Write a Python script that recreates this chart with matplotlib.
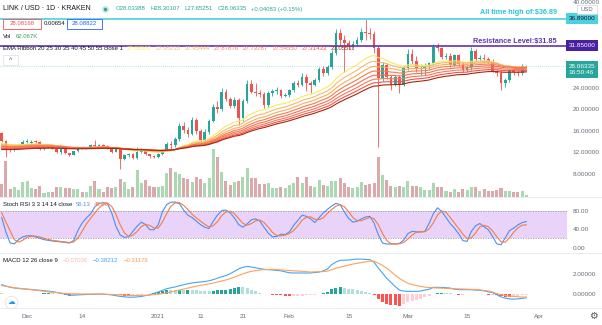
import numpy as np
import pandas as pd
import matplotlib
matplotlib.use("Agg")
import matplotlib.pyplot as plt
import matplotlib.dates as mdates
from matplotlib.patches import Rectangle

plt.rcParams['font.family'] = ['Liberation Sans', 'DejaVu Sans']

W, H = 602, 325

# LINK / USD daily candles (Kraken)
dates = pd.date_range("2020-11-25", "2021-03-29", freq="D")

opens = [15.6, 14.1, 12.5, 12.4, 13.1, 13.3, 13.9, 13.8, 14.0, 13.98,
         12.6, 13.2, 13.4, 12.7, 12.1, 12.6, 11.85, 11.55, 12.2, 12.9,
         12.8, 12.85, 13.4, 13.2, 13.3, 13.2, 12.7, 12.1, 12.6, 10.85,
         11.5, 11.7, 10.9, 12.1, 12.6, 11.7, 11.3, 11.1, 11.8, 12.3,
         13.6, 13.3, 14.5, 17.0, 16.2, 15.4, 18.0, 16.0, 14.3, 15.9,
         17.9, 20.5, 20.0, 23.3, 21.9, 20.6, 21.8, 18.4, 21.5, 24.7,
         23.3, 23.0, 22.8, 20.8, 23.0, 23.5, 23.6, 22.5, 22.7, 23.6,
         25.0, 24.5, 26.1, 25.0, 24.6, 25.5, 27.5, 26.7, 27.9, 30.5,
         34.2, 32.9, 32.3, 31.9, 32.2, 32.9, 34.5, 34.3, 34.1, 31.4,
         25.8, 28.2, 26.1, 24.6, 26.1, 24.6, 27.7, 30.4, 29.0, 27.5,
         27.7, 28.0, 28.6, 31.7, 31.4, 29.7, 30.0, 28.3, 30.1, 28.4,
         27.35, 27.85, 30.9, 29.3, 29.5, 29.3, 28.9, 27.2, 26.8, 24.9,
         25.5, 27.3, 26.9, 26.7, 28.03388]
highs = [15.9, 14.4, 13.3, 13.3, 13.5, 14.3, 14.5, 14.3, 14.4, 14.1,
         13.3, 13.6, 13.5, 12.9, 12.7, 12.7, 11.95, 12.3, 13.0, 13.1,
         13.0, 13.6, 14.4, 13.5, 13.5, 13.4, 12.9, 12.7, 12.8, 11.7,
         11.9, 11.9, 12.97, 12.9, 12.7, 11.8, 11.5, 11.9, 12.5, 14.0,
         14.2, 14.8, 17.5, 17.6, 16.8, 18.6, 18.5, 16.3, 16.3, 18.2,
         21.0, 21.5, 24.0, 23.8, 22.3, 22.4, 22.2, 21.9, 25.4, 25.5,
         25.0, 23.6, 23.2, 23.4, 23.9, 24.2, 23.9, 23.0, 23.9, 25.3,
         25.5, 26.8, 26.6, 25.3, 25.8, 27.9, 28.0, 28.3, 31.0, 35.0,
         35.0, 33.8, 32.9, 32.7, 33.4, 35.2, 36.89, 35.2, 34.6, 31.8,
         28.8, 28.6, 26.5, 26.5, 26.4, 28.0, 31.2, 31.3, 30.0, 28.5,
         28.7, 28.9, 32.2, 32.4, 31.6, 30.6, 30.5, 30.4, 30.4, 28.9,
         28.1, 31.6, 31.2, 30.2, 30.3, 29.7, 29.3, 27.5, 27.1, 25.8,
         27.6, 27.8, 27.4, 28.4, 28.30107]
lows = [13.9, 11.2, 12.1, 12.2, 12.9, 13.2, 13.7, 13.5, 13.7, 12.4,
        12.4, 12.9, 12.6, 11.9, 11.7, 11.7, 11.3, 11.5, 12.1, 12.6,
        12.6, 12.7, 13.0, 13.0, 13.0, 12.6, 11.9, 12.0, 9.0, 10.6,
        11.2, 10.7, 10.8, 11.9, 11.5, 11.0, 10.9, 11.0, 11.6, 12.2,
        12.6, 13.0, 14.2, 15.6, 14.8, 15.2, 15.5, 13.3, 13.9, 15.5,
        17.6, 19.3, 19.8, 21.5, 20.2, 20.3, 17.2, 17.9, 21.2, 23.0,
        22.6, 22.4, 20.2, 20.5, 22.6, 22.9, 22.2, 22.3, 22.4, 23.3,
        24.1, 24.3, 23.4, 23.0, 24.3, 25.2, 26.3, 26.5, 27.6, 30.2,
        32.0, 27.0, 31.2, 31.5, 31.8, 32.6, 33.0, 33.2, 30.5, 13.0,
        25.3, 25.6, 23.6, 24.3, 23.0, 24.3, 27.4, 28.4, 27.0, 26.4,
        26.5, 27.5, 28.3, 30.9, 29.3, 29.4, 27.9, 28.0, 28.1, 26.9,
        27.0, 27.4, 29.0, 29.0, 28.8, 28.6, 26.9, 26.3, 23.6, 24.2,
        25.1, 26.5, 26.2, 26.4, 27.65251]
closes = [14.1, 12.5, 12.4, 13.1, 13.3, 13.9, 14.1, 14.0, 13.98, 12.6,
          13.2, 13.4, 12.7, 12.1, 12.6, 11.85, 11.55, 12.2, 12.9, 12.8,
          12.85, 13.4, 13.2, 13.3, 13.2, 12.7, 12.1, 12.6, 10.85, 11.5,
          11.7, 10.9, 12.1, 12.6, 11.7, 11.3, 11.1, 11.8, 12.3, 13.6,
          13.3, 14.5, 17.0, 16.2, 15.4, 18.0, 16.0, 14.3, 15.9, 17.9,
          20.5, 20.0, 23.3, 21.9, 20.6, 21.8, 18.4, 21.5, 24.7, 23.3,
          23.0, 22.8, 20.8, 23.0, 23.5, 23.6, 22.5, 22.7, 23.6, 25.0,
          24.5, 26.1, 25.0, 24.6, 25.5, 27.5, 26.7, 27.9, 30.5, 34.2,
          32.9, 32.3, 31.9, 32.2, 32.9, 34.5, 34.3, 34.1, 31.4, 25.8,
          28.2, 26.1, 24.6, 26.1, 24.6, 27.7, 30.4, 29.0, 27.5, 27.7,
          28.0, 28.6, 31.7, 31.4, 29.7, 30.0, 28.3, 30.1, 28.4, 27.35,
          27.85, 30.9, 29.3, 29.5, 29.3, 28.9, 27.2, 26.8, 24.9, 25.5,
          27.3, 26.9, 26.7, 28.03, 28.06335]
# volume in thousands
volume = [520, 1476, 300, 410, 275, 586, 644, 369, 300, 439,
          164, 205, 205, 381, 410, 369, 369, 300, 316, 205,
          205, 451, 644, 300, 205, 410, 369, 410, 726, 586,
          316, 410, 1095, 545, 685, 439, 410, 410, 451, 955,
          1160, 1025, 943, 750, 709, 615, 820, 738, 574, 750,
          1980, 1611, 1025, 644, 480, 615, 656, 820, 1160, 779,
          750, 504, 533, 574, 340, 340, 381, 340, 480, 574,
          791, 545, 791, 451, 398, 685, 480, 451, 644, 644,
          750, 545, 381, 340, 381, 615, 480, 521, 545, 1611,
          902, 697, 451, 410, 451, 410, 644, 451, 451, 410,
          275, 275, 545, 381, 381, 246, 205, 316, 205, 316,
          275, 410, 381, 246, 300, 234, 246, 275, 340, 234,
          234, 176, 176, 246, 62.067]

stoch_k = [65, 33.5, 9.7, 8, 17, 23, 25.5, 25.5, 23, 20,
           17, 15.5, 14, 13.4, 12, 11, 9.7, 15, 36.5, 53,
           64, 72.5, 88, 96, 97, 95, 75, 46, 27, 22,
           23, 35, 46, 55, 49.5, 38.6, 38.6, 49.5, 78, 93,
           98, 98.6, 95, 81, 70, 65, 57, 49.5, 44, 41,
           57, 70, 80, 81, 75, 64, 49.5, 44, 51, 60,
           62, 57, 44, 31, 23, 24, 29, 28, 34, 48,
           59, 70, 67.5, 62, 54, 64.6, 74.7, 82.7, 90, 95.7,
           92.8, 76.8, 63, 55, 57, 62, 66, 67.5, 53, 28,
           9.7, 7.6, 7.6, 7.6, 9, 16, 30, 35, 34, 33.5,
           35, 52, 73, 86, 78, 65, 52, 42, 30, 14.8,
           13.4, 35, 47, 52, 45, 38.6, 24, 8, 6, 20.6,
           36.5, 42, 49, 54, 56.13]
stoch_d = [75, 55, 36, 17, 11.5, 16, 22, 24.7, 24.7, 22.8,
           20, 17.5, 15.5, 14.3, 13.1, 12.1, 10.9, 11.9, 20.4, 34.8,
           51, 63, 74.8, 85.5, 93.7, 96, 89, 72, 49.3, 31.7,
           24, 26.7, 34.7, 45.3, 50.2, 47.7, 42.2, 42.2, 55.4, 73.5,
           89.7, 96.5, 97.2, 91.5, 82, 72, 64, 57.2, 50.2, 44.8,
           47.3, 56, 69, 77, 78.7, 73.3, 62.8, 52.5, 48.2, 51.7,
           57.7, 59.7, 54.3, 44, 32.7, 26, 25.3, 27, 30.3, 36.7,
           47, 59, 65.5, 66.5, 61.2, 60.2, 64.4, 74, 82.5, 89.5,
           92.8, 88.4, 77.5, 65, 58.3, 58, 61.7, 65.2, 62.2, 49.5,
           30.2, 15.1, 8.3, 7.6, 8.1, 10.9, 18.3, 27, 33, 34.2,
           34.2, 40.2, 53.3, 70.3, 79, 76.3, 65, 53, 41.3, 28.9,
           19.4, 21, 31.8, 44.7, 48, 45.2, 35.9, 23.5, 12.7, 11.5,
           21, 33, 42.5, 48.3, 49.08]

macd_line = [0.95, 0.81, 0.68, 0.61, 0.56, 0.52, 0.49, 0.46, 0.42, 0.37,
             0.34, 0.29, 0.24, 0.16, 0.08, -0.01, -0.13, -0.12, -0.09, -0.07,
             -0.05, -0.04, -0.02, 0.00, -0.02, -0.05, -0.09, -0.17, -0.24, -0.28,
             -0.33, -0.32, -0.30, -0.25, -0.16, -0.07, 0.07, 0.21, 0.37, 0.54,
             0.63, 0.72, 0.83, 0.94, 1.04, 1.12, 1.18, 1.22, 1.26, 1.34,
             1.46, 1.60, 1.75, 1.87, 2.06, 2.30, 2.55, 2.71, 2.80, 2.74,
             2.66, 2.58, 2.51, 2.47, 2.44, 2.40, 2.35, 2.25, 2.15, 2.13,
             2.13, 2.13, 2.13, 2.14, 2.18, 2.22, 2.35, 2.54, 2.98, 3.25,
             3.42, 3.43, 3.45, 3.50, 3.54, 3.54, 3.51, 3.49, 3.22, 2.64,
             2.12, 1.59, 1.19, 0.75, 0.39, 0.30, 0.27, 0.27, 0.27, 0.30,
             0.40, 0.47, 0.68, 0.68, 0.67, 0.64, 0.60, 0.49, 0.44, 0.44,
             0.44, 0.43, 0.40, 0.37, 0.32, 0.22, 0.13, -0.07, -0.29, -0.42,
             -0.50, -0.52, -0.50, -0.44, -0.38212]
signal_line = [0.85, 0.78, 0.71, 0.64, 0.59, 0.54, 0.49, 0.43, 0.38, 0.33,
               0.28, 0.22, 0.18, 0.14, 0.09, 0.05, 0.03, 0.02, 0.01, 0.00,
               0.00, 0.00, 0.00, 0.00, -0.01, -0.03, -0.05, -0.06, -0.09, -0.11,
               -0.14, -0.16, -0.15, -0.14, -0.13, -0.11, -0.07, -0.02, 0.05, 0.12,
               0.21, 0.30, 0.39, 0.50, 0.60, 0.70, 0.79, 0.87, 0.95, 1.03,
               1.11, 1.21, 1.32, 1.43, 1.56, 1.71, 1.88, 2.04, 2.19, 2.30,
               2.37, 2.43, 2.47, 2.48, 2.50, 2.48, 2.45, 2.41, 2.38, 2.35,
               2.33, 2.30, 2.27, 2.23, 2.25, 2.27, 2.28, 2.32, 2.47, 2.61,
               2.73, 2.83, 2.94, 3.04, 3.11, 3.19, 3.26, 3.34, 3.32, 3.13,
               2.89, 2.62, 2.27, 1.91, 1.58, 1.33, 1.08, 0.96, 0.86, 0.78,
               0.70, 0.66, 0.63, 0.61, 0.59, 0.57, 0.54, 0.53, 0.52, 0.51,
               0.49, 0.47, 0.45, 0.42, 0.35, 0.31, 0.20, 0.05, -0.07, -0.15,
               -0.22, -0.25, -0.28, -0.30, -0.31176]

ema_lengths = [20, 25, 30, 35, 40, 45, 50, 55]
ema_start = [13.7, 13.5, 13.3, 13.15, 13.0, 12.85, 12.7, 12.55]
ema_colors = ["#f5eb5d", "#f5b771", "#f5b056", "#f57b4e",
              "#f56d58", "#f57d51", "#f55151", "#aa2707"]
ema_legend = ["27.86562", "27.95235", "27.95444", "27.87876",
              "27.73787", "27.54550", "27.31433", "27.05511"]

ath = 36.89
resistance = 31.85
last_price = 28.06335
price_ticks = [8, 12, 16, 20, 24, 40]

tick_dates = pd.to_datetime(["2020-12-01", "2020-12-14", "2021-01-01", "2021-01-11",
                             "2021-01-21", "2021-02-01", "2021-02-15", "2021-03-01",
                             "2021-03-15", "2021-04-01"])
tick_labels = ["Dec", "14", "2021", "11", "21", "Feb", "15", "Mar", "15", "Apr"]

UP, DOWN = "#26a69a", "#ef5350"
GREY = "#6a6d78"
FS = 4.3

o = np.array(opens); h = np.array(highs); l = np.array(lows); c = np.array(closes)
xn = mdates.date2num(dates.to_pydatetime())
up = c >= o

fig = plt.figure(figsize=(W / 100, H / 100), dpi=100)
fig.patch.set_facecolor("white")

right = 567 / W
xlim = (xn[0] - 0.4, xn[0] + 133.6)

def rect(top, bottom):
    return [0, 1 - bottom / H, right, (bottom - top) / H]

# volume behind the candles
axv = fig.add_axes(rect(0, 196.5))
axv.bar(xn, volume, width=0.72, color=np.where(up, "#a9d8b1", "#dba9ab"), lw=0)
axv.set_xlim(*xlim)
axv.set_ylim(0, 1980 * 196.5 / 48)
axv.set_axis_off()

ax = fig.add_axes(rect(0, 196.5))
ax.patch.set_alpha(0)
ax.set_xlim(*xlim)
ax.set_ylim(3.81, 40.37)
col = np.where(up, UP, DOWN)
ax.vlines(xn, l, h, colors=col, lw=0.6, zorder=2)
ax.bar(xn, np.maximum(np.abs(c - o), 0.07), bottom=np.minimum(o, c), width=0.64,
       color=col, lw=0, zorder=2)

# EMA ribbon
for n, s, clr in zip(ema_lengths, ema_start, ema_colors):
    a = 2 / (n + 1)
    vals = [s]
    for v in c[1:]:
        vals.append(a * v + (1 - a) * vals[-1])
    ax.plot(xn, vals, color=clr, lw=0.8, zorder=3)

ax.axhline(ath, color="#4dd0e1", lw=1.2, zorder=4)
ax.axhline(resistance, color="#5e35b1", lw=1.2, zorder=4)
ax.axhline(last_price, color="#26a69a", lw=0.5, ls=(0, (1, 2)), alpha=0.6, zorder=1)

ax.yaxis.tick_right()
ax.set_yticks(price_ticks)
ax.set_yticklabels(["%.5f" % t for t in price_ticks])
ax.tick_params(axis="y", length=0, pad=4.3, labelsize=4.6, labelcolor=GREY)
ax.set_xticks([])
for sp in ax.spines.values():
    sp.set_visible(False)

tr = ax.get_yaxis_transform()
ax.text(1.003, ath, "36.89000", transform=tr, ha="left", va="center", fontsize=4.6,
        color="#131722", clip_on=False, zorder=10,
        bbox=dict(boxstyle="square,pad=0.45", fc="#4dd0e1", ec="none"))
ax.text(1.003, resistance, "31.85000", transform=tr, ha="left", va="center", fontsize=4.6,
        color="white", clip_on=False, zorder=10,
        bbox=dict(boxstyle="square,pad=0.45", fc="#4a1fa0", ec="none"))
ax.text(1.003, last_price - 0.6, "28.06335\n16:50:46", transform=tr, ha="left", va="center",
        fontsize=4.6, color="white", clip_on=False, zorder=10, linespacing=1.25,
        bbox=dict(boxstyle="square,pad=0.45", fc="#26a69a", ec="none"))

# Stoch RSI
axs = fig.add_axes(rect(197, 253))
axs.set_xlim(*xlim)
axs.set_ylim(-11.9, 109.4)
axs.axhspan(20, 80, color="#e9d3f9", lw=0)
for lvl in (20, 80):
    axs.axhline(lvl, color="#9598a1", lw=0.6, ls=(0, (1.5, 1.5)))
axs.plot(xn, stoch_k, color="#4a90f0", lw=0.8)
axs.plot(xn, stoch_d, color="#f57c42", lw=0.8)
axs.yaxis.tick_right()
axs.set_yticks([0, 40, 80])
axs.set_yticklabels(["0.00", "40.00", "80.00"])
axs.tick_params(axis="y", length=0, pad=4.3, labelsize=4.6, labelcolor=GREY)
axs.set_xticks([])
for sp in axs.spines.values():
    sp.set_visible(False)

# MACD
axm = fig.add_axes(rect(253, 308))
axm.set_xlim(*xlim)
axm.set_ylim(-1.42, 4.16)
m = np.array(macd_line); s = np.array(signal_line)
hist = m - s
hcol = []
for i, hv in enumerate(hist):
    prev = hist[i - 1] if i > 0 else hv
    if hv >= 0:
        hcol.append("#26a69a" if hv > prev else "#b2dfdb")
    else:
        hcol.append("#ffcdd2" if hv > prev else "#ff5252")
axm.bar(xn, hist, width=0.72, color=hcol, lw=0)
axm.plot(xn, m, color="#42a5f5", lw=0.8)
axm.plot(xn, s, color="#ffa05a", lw=0.8)
axm.yaxis.tick_right()
axm.set_yticks([0, 2])
axm.set_yticklabels(["0.00000", "2.00000"])
axm.tick_params(axis="y", length=0, pad=4.3, labelsize=4.6, labelcolor=GREY)
axm.set_xticks(mdates.date2num(tick_dates.to_pydatetime()))
axm.set_xticklabels(tick_labels)
axm.tick_params(axis="x", length=0, pad=4.5, labelsize=4.6, labelcolor=GREY)
for sp in axm.spines.values():
    sp.set_visible(False)

# overlay in pixel coordinates for legends and chrome
ov = fig.add_axes([0, 0, 1, 1])
ov.set_xlim(0, W)
ov.set_ylim(H, 0)
ov.set_axis_off()
renderer = fig.canvas.get_renderer()

def row(x, y, parts, gap=3.5, size=FS):
    # lay out coloured pieces one after another on a line
    for txt, clr in parts:
        t = ov.text(x, y, txt, fontsize=size, color=clr, va="center")
        x += t.get_window_extent(renderer).width + gap
    return x

for yy in (196.8, 253, 308):
    ov.plot([0, W], [yy, yy], color="#e6e8ee", lw=0.6)

ov.text(3, 9, "LINK / USD · 1D · KRAKEN", fontsize=5.0, color="#131722", va="center")
ov.plot(105, 9, "o", ms=3.5, color="#26a69a", mec="#b9e4df", mew=1.2)
row(116, 9, [("O28.03388", UP), ("H28.30107", UP), ("L27.65251", UP),
             ("C28.06335", UP), ("+0.04083 (+0.15%)", UP)], gap=4.5)

ov.add_patch(Rectangle((3, 18.5), 38, 10, fc="white", ec="#ef5350", lw=0.6))
ov.text(22, 23.5, "28.08168", fontsize=FS, color="#ef5350", ha="center", va="center")
ov.text(44, 23.5, "0.00654", fontsize=FS, color="#131722", va="center")
ov.add_patch(Rectangle((67, 18.5), 35, 10, fc="white", ec="#2962ff", lw=0.6))
ov.text(84.5, 23.5, "28.08822", fontsize=FS, color="#2962ff", ha="center", va="center")

row(3, 36, [("Vol", "#131722"), ("62.067K", "#3aa060")], gap=4)

row(3, 48, [("EMA Ribbon 20 25 30 35 40 45 50 55 close 1", "#131722")] +
    list(zip(ema_legend, ema_colors)), gap=4)

ov.add_patch(Rectangle((3, 55), 15, 10, fc="white", ec="#e0e3eb", lw=0.6))
ov.text(10.5, 61, "^", fontsize=5, color="#50535e", ha="center", va="center")

ov.text(557, 13, "All time high of:$36.89", fontsize=5.2, color="#26c6da",
        fontweight="bold", ha="right", va="center")
ov.text(557, 41, "Resistance Level:$31.85", fontsize=5.2, color="#5e35b1",
        fontweight="bold", ha="right", va="center")

ov.add_patch(Rectangle((577, 5), 20, 9, fc="white", ec="#d1d4dc", lw=0.5, zorder=5))
ov.text(587, 9.5, "USD", fontsize=4.2, color=GREY, ha="center", va="center", zorder=6)

row(3, 204, [("Stoch RSI 3 3 14 14 close", "#131722"), ("56.13", "#4a90f0"),
             ("49.08", "#f57c42")], gap=3.5)
row(3, 260, [("MACD 12 26 close 9", "#131722"), ("\u22120.07036", "#ffb3bd"),
             ("\u22120.38212", "#42a5f5"), ("\u22120.31176", "#ff9a4d")], gap=5)

ov.plot(11, 302, "o", ms=9, mfc="white", mec="#e0e3eb", mew=0.6)
ov.text(11, 302, "\u2601", fontsize=5.5, color="#2196f3", ha="center", va="center")
ov.text(593, 316, "\u2699", fontsize=7, color="#50535e", ha="center", va="center")

fig.savefig("out.png", dpi=100, facecolor="white")
